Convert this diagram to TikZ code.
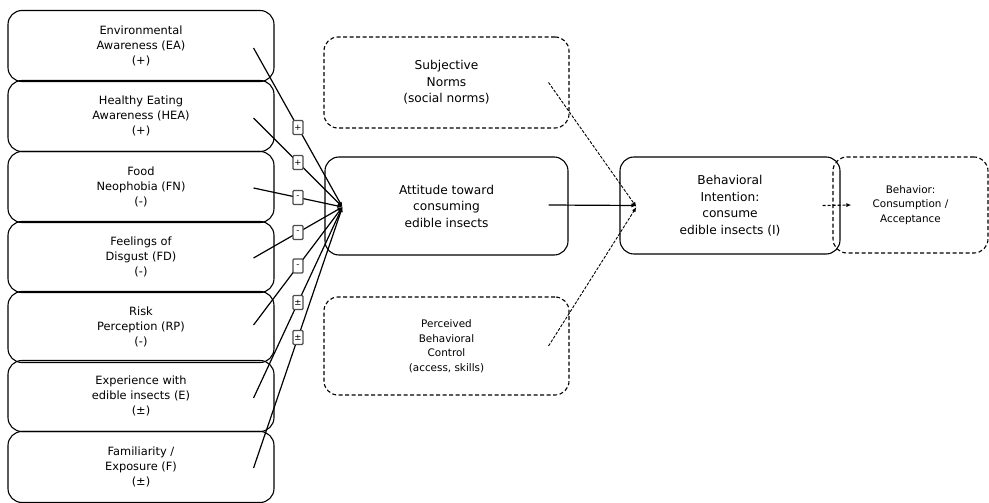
\documentclass[tikz,border=0pt]{standalone}
\usepackage{fontspec}
\setmainfont{DejaVu Sans}
\usetikzlibrary{arrows.meta, positioning}
\tikzset{
  factor/.style={
    draw,
    line width=1.1pt,
    rounded corners=14pt,
    minimum width=266pt,
    minimum height=71pt,
    align=center,
    font=\fontsize{11.4}{15}\selectfont
  },
  core/.style={
    draw,
    line width=1.1pt,
    rounded corners=14pt,
    align=center,
    font=\fontsize{12.2}{16.5}\selectfont
  },
  outer/.style={
    core,
    dash pattern=on 4pt off 2.5pt
  },
  smalltext/.style={
    font=\fontsize{10.4}{14.5}\selectfont
  },
  link/.style={
    -{Latex[length=5pt,width=4pt]},
    line width=1.2pt
  },
  weaklink/.style={
    -{Latex[length=5pt,width=4pt]},
    line width=0.9pt,
    dash pattern=on 3pt off 1.5pt
  },
  sign/.style={
    draw=black!70,
    fill=white,
    rounded corners=1pt,
    inner sep=1pt,
    minimum width=10pt,
    minimum height=14pt,
    font=\fontsize{8.5}{9}\selectfont
  }
}

\begin{document}
\begin{tikzpicture}[x=1pt, y=-1pt]
  \useasboundingbox (0,0) rectangle (989,503);
  % factors on the left
  \node[factor] (EA)  at (141,46)  {Environmental\\Awareness (EA)\\(+)};
  \node[factor] (HEA) at (141,116) {Healthy Eating\\Awareness (HEA)\\(+)};
  \node[factor] (FN)  at (141,187) {Food\\Neophobia (FN)\\(-)};
  \node[factor] (FD)  at (141,257) {Feelings of\\Disgust (FD)\\(-)};
  \node[factor] (RP)  at (141,327) {Risk\\Perception (RP)\\(-)};
  \node[factor] (EX)  at (141,396) {Experience with\\edible insects (E)\\(±)};
  \node[factor] (FA)  at (141,467) {Familiarity /\\Exposure (F)\\(±)};

  % planned behaviour
  \node[core, minimum width=243pt, minimum height=98pt] (ATT) at (446.5,206) {Attitude toward\\consuming\\edible insects};
  \node[outer, minimum width=245pt, minimum height=91pt] (SN) at (446.5,82.5) {Subjective\\Norms\\(social norms)};
  \node[outer, smalltext, minimum width=245pt, minimum height=98pt] (PBC) at (446.5,346) {Perceived\\Behavioral\\Control\\(access, skills)};
  \node[core, minimum width=220pt, minimum height=97pt] (BI) at (730,205.5) {Behavioral\\Intention:\\consume\\edible insects (I)};
  \node[outer, smalltext, minimum width=155pt, minimum height=96pt] (BEH) at (910.5,205) {Behavior:\\Consumption /\\Acceptance};

  \draw[link] ([xshift=-21pt,yshift=-2pt]EA.east)  -- node[sign]{+} ([xshift=18pt,yshift=-1pt]ATT.west);
  \draw[link] ([xshift=-21pt,yshift=-2pt]HEA.east) -- node[sign]{+} ([xshift=18pt,yshift=-1pt]ATT.west);
  \draw[link] ([xshift=-21pt,yshift=-1pt]FN.east)  -- node[sign]{-} ([xshift=18pt,yshift=-1pt]ATT.west);
  \draw[link] ([xshift=-21pt,yshift=-1pt]FD.east)  -- node[sign]{-} ([xshift=18pt,yshift=-1pt]ATT.west);
  \draw[link] ([xshift=-21pt,yshift=2pt]RP.east)   -- node[sign]{-} ([xshift=18pt,yshift=-1pt]ATT.west);
  \draw[link] ([xshift=-21pt,yshift=-2pt]EX.east)  -- node[sign]{±} ([xshift=18pt,yshift=-1pt]ATT.west);
  \draw[link] ([xshift=-21pt,yshift=-1pt]FA.east)  -- node[sign]{±} ([xshift=18pt,yshift=-1pt]ATT.west);

  \draw[link] ([xshift=-20pt,yshift=1pt]ATT.east) -- ([xshift=17pt]BI.west);
  \draw[weaklink] ([xshift=-21pt]SN.east)  -- ([xshift=17pt,yshift=-1.5pt]BI.west);
  \draw[weaklink] ([xshift=-21pt]PBC.east) -- ([xshift=17pt,yshift=-1.5pt]BI.west);
  \draw[link, dash pattern=on 3pt off 2pt] ([xshift=-18pt]BI.east) -- ([xshift=19pt]BEH.west);
\end{tikzpicture}
\end{document}
